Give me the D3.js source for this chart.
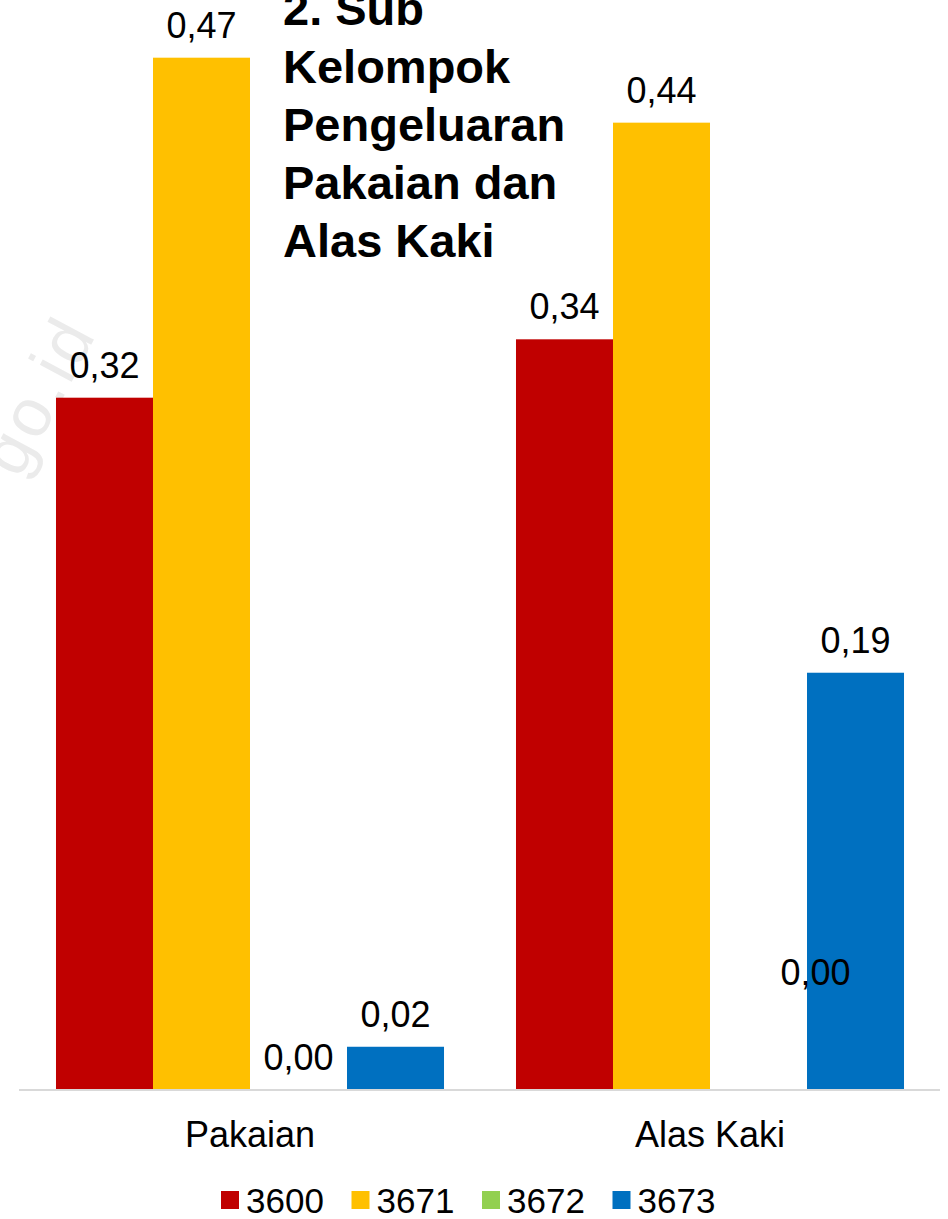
<!DOCTYPE html>
<html>
<head>
<meta charset="utf-8">
<script src="https://cdn.jsdelivr.net/npm/d3@7"></script>
<style>
  html, body { margin: 0; padding: 0; background: #ffffff; }
  svg { display: block; }
  text { font-family: "Liberation Sans", Arial, sans-serif; }
</style>
</head>
<body>
<svg id="chart" width="948" height="1219"></svg>
<script>
// ---- data ----
const categories = ["Pakaian", "Alas Kaki"];
const seriesNames = ["3600", "3671", "3672", "3673"];
const values3600 = [0.3154, 0.3420];
const values3671 = [0.4703, 0.4407];
const values3672 = [0.0000, 0.0000];
const values3673 = [0.0197, 0.1901];
const seriesColors = ["#C00000", "#FFC000", "#92D050", "#0070C0"];
const titleLines = ["2. Sub", "Kelompok", "Pengeluaran", "Pakaian dan", "Alas Kaki"];
const watermarkText = "go.id";

const seriesValues = [values3600, values3671, values3672, values3673];

const svg = d3.select("#chart");
const baseY = 1090;

// scales
const x0 = d3.scaleBand().domain(categories).range([20, 940]).paddingInner(0).paddingOuter(0);
const x1 = d3.scaleBand().domain(seriesNames).range([0, x0.bandwidth()]).paddingInner(0).paddingOuter(0.371);
const y = d3.scaleLinear().domain([0, 0.5]).range([baseY, baseY - 0.5 * 2195]);

const fmt = v => d3.format(".2f")(v).replace(".", ",");

// watermark
svg.append("text")
  .attr("transform", "translate(98,332) rotate(-62)")
  .attr("text-anchor", "end")
  .attr("font-size", 68)
  .attr("letter-spacing", 4)
  .attr("fill", "#ebebeb")
  .text(watermarkText);

// bars
const rows = [];
categories.forEach((c, ci) => {
  seriesNames.forEach((s, si) => {
    rows.push({ cat: c, ser: s, si, ci, value: seriesValues[si][ci] });
  });
});

svg.append("g").selectAll("rect")
  .data(rows)
  .join("rect")
  .attr("x", d => x0(d.cat) + x1(d.ser))
  .attr("y", d => y(d.value))
  .attr("width", x1.bandwidth())
  .attr("height", d => y(0) - y(d.value))
  .attr("fill", d => seriesColors[d.si]);

// axis line
const xAxis = d3.axisBottom(x0).tickSize(0).tickPadding(0);
const gx = svg.append("g").attr("transform", `translate(0,${baseY})`).call(xAxis);
gx.select(".domain").attr("stroke", "#d9d9d9").attr("stroke-width", 2).attr("d", "M19,0H940");
gx.selectAll(".tick text")
  .attr("font-family", "Liberation Sans, Arial, sans-serif")
  .attr("font-size", 36)
  .attr("fill", "#000")
  .attr("dy", 0)
  .attr("y", 57);

// data labels
// label of the zero-valued 3672 bar in "Alas Kaki" was moved manually in the source chart
const manualShift = { "Alas Kaki|3672": [57, -85] };
svg.append("g").selectAll("text")
  .data(rows)
  .join("text")
  .attr("x", d => x0(d.cat) + x1(d.ser) + x1.bandwidth() / 2 + ((manualShift[d.cat + "|" + d.ser] || [0, 0])[0]))
  .attr("y", d => y(d.value) - 20 + ((manualShift[d.cat + "|" + d.ser] || [0, 0])[1]))
  .attr("text-anchor", "middle")
  .attr("font-size", 36)
  .attr("fill", "#000")
  .text(d => fmt(d.value));

// title
const title = svg.append("text")
  .attr("x", 283)
  .attr("y", 25)
  .attr("font-size", 47)
  .attr("font-weight", "bold")
  .attr("fill", "#000");
titleLines.forEach((t, i) => {
  title.append("tspan").attr("x", 283).attr("y", 25 + i * 58).text(t);
});

// legend
const legend = svg.append("g");
seriesNames.forEach((s, i) => {
  const lx = 221 + i * 130.5;
  legend.append("rect")
    .attr("x", lx).attr("y", 1191)
    .attr("width", 18).attr("height", 18)
    .attr("fill", seriesColors[i]);
  legend.append("text")
    .attr("x", lx + 25).attr("y", 1213)
    .attr("font-size", 35)
    .attr("fill", "#000")
    .text(s);
});
</script>
</body>
</html>
